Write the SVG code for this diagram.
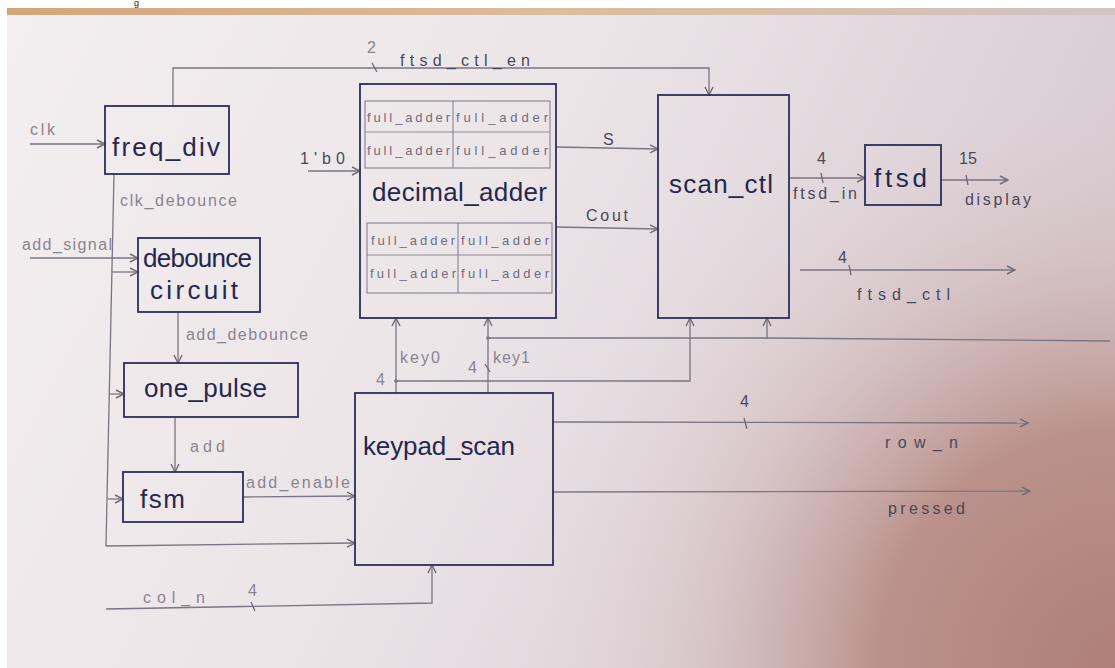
<svg xmlns="http://www.w3.org/2000/svg" width="1115" height="668" viewBox="0 0 1115 668">
<defs>
<linearGradient id="paper" x1="0" y1="0" x2="1" y2="0.3">
<stop offset="0" stop-color="#f3eef0"/>
<stop offset="0.5" stop-color="#ece5e8"/>
<stop offset="1" stop-color="#d6cbd1"/>
</linearGradient>
<radialGradient id="shade" cx="1115" cy="668" r="600" gradientUnits="userSpaceOnUse">
<stop offset="0" stop-color="#ad7f77" stop-opacity="1"/>
<stop offset="0.4" stop-color="#b88c84" stop-opacity="0.9"/>
<stop offset="0.7" stop-color="#d0b4b4" stop-opacity="0.4"/>
<stop offset="1" stop-color="#e6dade" stop-opacity="0"/>
</radialGradient>
<linearGradient id="tan" x1="0" y1="0" x2="1" y2="0">
<stop offset="0" stop-color="#d4a57a"/>
<stop offset="0.5" stop-color="#dcbd9c"/>
<stop offset="1" stop-color="#d0c4c4"/>
</linearGradient>
<marker id="ar" viewBox="0 0 10 10" refX="9" refY="5" markerWidth="10" markerHeight="10" markerUnits="userSpaceOnUse" orient="auto">
<path d="M1,1 L9,5 L1,9" fill="none" stroke="#6f6a74" stroke-width="1.4"/>
</marker>
<style>
.box{fill:none;stroke:#2c2e5c;stroke-width:1.8}
.grid{fill:none;stroke:#8e8a98;stroke-width:1.2}
.title{font-family:"Liberation Sans",sans-serif;fill:#25274f;font-size:26px}
.fa{font-family:"Liberation Sans",sans-serif;fill:#6e6c82;font-size:13px}
.lbl{font-family:"Liberation Sans",sans-serif;fill:#8a8490;font-size:16px}
.dlbl{font-family:"Liberation Sans",sans-serif;fill:#4a4858;font-size:16px}
.wire{fill:none;stroke:#7a7580;stroke-width:1.3}
.arr{marker-end:url(#ar)}
.tick{stroke:#6f6a74;stroke-width:1.3}
</style>
</defs>
<rect x="0" y="0" width="1115" height="668" fill="#ffffff"/>
<rect x="7" y="8" width="1108" height="660" fill="url(#paper)"/>
<rect x="7" y="8" width="1108" height="660" fill="url(#shade)"/>
<rect x="7" y="8" width="1108" height="7" fill="url(#tan)"/>
<text x="134" y="6" font-family="Liberation Sans,sans-serif" font-size="9" fill="#222">g</text>

<g id="connectors">
<path class="wire arr" d="M30,144 L105,144"/>
<path class="wire arr" d="M173,106 L173,68 L709,68 L709,95"/>
<line class="tick" x1="372" y1="63" x2="377" y2="72"/>
<path class="wire" d="M114,174 L106,546"/>
<path class="wire arr" d="M112,272 L138,272"/>
<path class="wire arr" d="M110,394 L124,394"/>
<path class="wire arr" d="M108,499 L123,499"/>
<path class="wire arr" d="M106,546 L355,543"/>
<path class="wire arr" d="M30,258 L138,258"/>
<path class="wire arr" d="M178,312 L178,363"/>
<path class="wire arr" d="M175,417 L175,472"/>
<path class="wire arr" d="M243,497 L355,496"/>
<path class="wire arr" d="M106,609 L432,603 L432,565"/>
<line class="tick" x1="251" y1="602" x2="255" y2="611"/>
<path class="wire arr" d="M308,171 L360,171"/>
<path class="wire arr" d="M556,147 L658,149"/>
<path class="wire arr" d="M556,227 L658,229"/>
<path class="wire arr" d="M396,393 L396,318"/>
<path class="wire arr" d="M396,381 L690,381 L690,318"/>
<circle cx="396" cy="381" r="1.8" fill="#7a7580"/>
<path class="wire arr" d="M488,393 L488,318"/>
<path class="wire arr" d="M488,338 L767,338 L767,318"/>
<path class="wire" d="M767,338 L1110,341"/>
<circle cx="488" cy="338" r="1.8" fill="#7a7580"/>
<line class="tick" x1="485" y1="364" x2="490" y2="372"/>
<path class="wire arr" d="M789,178 L865,178"/>
<line class="tick" x1="821" y1="173" x2="823" y2="183"/>
<path class="wire arr" d="M941,180 L1008,180"/>
<line class="tick" x1="966" y1="175" x2="968" y2="185"/>
<path class="wire arr" d="M800,270 L1015,270"/>
<line class="tick" x1="849" y1="265" x2="851" y2="275"/>
<path class="wire arr" d="M553,422 L1028,423"/>
<line class="tick" x1="744" y1="418" x2="747" y2="429"/>
<path class="wire arr" d="M553,492 L1030,491"/>

<text class="lbl" x="30" y="135" textLength="25" font-size="18">clk</text>
<text class="lbl" x="367" y="53" font-size="12">2</text>
<text class="dlbl" x="400" y="66" textLength="130" font-size="19">ftsd_ctl_en</text>
<text class="lbl" x="120" y="206" textLength="117">clk_debounce</text>
<text class="lbl" x="22" y="250" textLength="90" font-size="15">add_signal</text>
<text class="lbl" x="186" y="340" textLength="122">add_debounce</text>
<text class="lbl" x="190" y="452" textLength="35" font-size="19">add</text>
<text class="lbl" x="246" y="488" textLength="104" font-size="17">add_enable</text>
<text class="lbl" x="143" y="603" textLength="62" font-size="18">col_n</text>
<text class="lbl" x="248" y="596" font-size="14">4</text>
<text class="dlbl" x="300" y="164" textLength="45" font-size="20">1'b0</text>
<text class="dlbl" x="603" y="145" font-size="17">S</text>
<text class="dlbl" x="586" y="221" textLength="42" font-size="18">Cout</text>
<text class="lbl" x="400" y="363" textLength="40" font-size="17">key0</text>
<text class="lbl" x="493" y="363" textLength="37" font-size="17">key1</text>
<text class="lbl" x="376" y="385" font-size="14">4</text>
<text class="lbl" x="468" y="373" font-size="13">4</text>
<text class="dlbl" x="817" y="164" font-size="14">4</text>
<text class="dlbl" x="793" y="199" textLength="64">ftsd_in</text>
<text class="dlbl" x="959" y="164" font-size="14">15</text>
<text class="dlbl" x="965" y="205" textLength="66" font-size="18">display</text>
<text class="dlbl" x="838" y="263" font-size="14">4</text>
<text class="dlbl" x="857" y="300" textLength="93" font-size="19">ftsd_ctl</text>
<text class="dlbl" x="740" y="407" font-size="14">4</text>
<text class="dlbl" x="885" y="448" textLength="73" font-size="17">row_n</text>
<text class="dlbl" x="888" y="514" textLength="77" font-size="18">pressed</text>
</g>

<g id="freq_div">
<rect class="box" x="105" y="106" width="124" height="68"/>
<text class="title" x="112" y="156" textLength="108">freq_div</text>
</g>

<g id="decimal_adder">
<rect class="box" x="360" y="84" width="196" height="234"/>
<rect class="grid" x="365" y="101" width="185" height="67"/>
<line class="grid" x1="365" y1="132" x2="550" y2="132"/>
<line class="grid" x1="453" y1="101" x2="453" y2="168"/>
<rect class="grid" x="367" y="223" width="185" height="70"/>
<line class="grid" x1="367" y1="255" x2="552" y2="255"/>
<line class="grid" x1="458" y1="223" x2="458" y2="293"/>
<text class="fa" x="367" y="122" textLength="83">full_adder</text>
<text class="fa" x="456" y="122" textLength="92">full_adder</text>
<text class="fa" x="367" y="155" textLength="83">full_adder</text>
<text class="fa" x="456" y="155" textLength="92">full_adder</text>
<text class="fa" x="371" y="245" textLength="84">full_adder</text>
<text class="fa" x="461" y="245" textLength="88">full_adder</text>
<text class="fa" x="370" y="278" textLength="86">full_adder</text>
<text class="fa" x="461" y="278" textLength="88">full_adder</text>
<text class="title" x="372" y="201" textLength="175">decimal_adder</text>
</g>

<g id="scan_ctl">
<rect class="box" x="658" y="95" width="131" height="223"/>
<text class="title" x="669" y="193" textLength="104" font-size="24">scan_ctl</text>
</g>

<g id="ftsd">
<rect class="box" x="865" y="145" width="76" height="60"/>
<text class="title" x="874" y="187" textLength="53" font-size="27">ftsd</text>
</g>

<g id="debounce_circuit">
<rect class="box" x="138" y="238" width="122" height="74"/>
<text class="title" x="143" y="267" textLength="109" font-size="24">debounce</text>
<text class="title" x="150" y="299" textLength="88" font-size="24">circuit</text>
</g>

<g id="one_pulse">
<rect class="box" x="124" y="363" width="174" height="54"/>
<text class="title" x="144" y="397" textLength="123" font-size="24">one_pulse</text>
</g>

<g id="fsm">
<rect class="box" x="123" y="472" width="120" height="50"/>
<text class="title" x="140" y="508" textLength="45" font-size="25">fsm</text>
</g>

<g id="keypad_scan">
<rect class="box" x="355" y="393" width="198" height="172"/>
<text class="title" x="363" y="455" textLength="152" font-size="25">keypad_scan</text>
</g>
</svg>
